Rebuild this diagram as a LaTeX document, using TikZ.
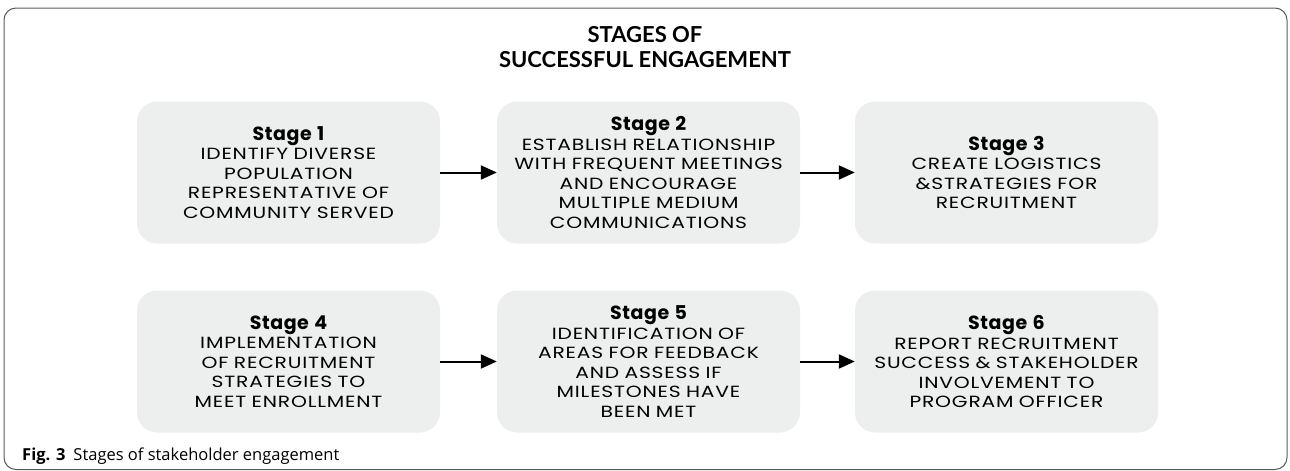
\documentclass[tikz,border=0pt]{standalone}
\usepackage{fontspec}
\setmainfont{Open Sans}
\newfontfamily\titlefont{Lato}
\newfontfamily\boxfont{Poppins}[FakeStretch=1.25, LetterSpace=5]
\newfontfamily\headfont{Poppins}[LetterSpace=3]
\usetikzlibrary{arrows.meta}
\definecolor{boxgray}{HTML}{EDEEEE}
\definecolor{framegray}{HTML}{5A5A5A}
\newcommand{\stagehead}[1]{{\headfont\fontsize{19}{22}\selectfont\bfseries #1}\\}
\begin{document}
\begin{tikzpicture}[x=1pt, y=-1pt,
                    stage/.style={fill=boxgray, rounded corners=20pt, inner sep=0pt,
                                  minimum width=303pt, minimum height=142pt,
                                  text width=300pt, align=center, text=black,
                                  font=\boxfont\fontsize{16.2}{19.5}\selectfont},
                    flow/.style={-{Triangle[length=16pt,width=14pt]}, line width=2pt}]
	\useasboundingbox (0,0) rectangle (1290,471);
	\draw[framegray, line width=1pt, rounded corners=12pt] (4,8) rectangle (1287,469.5);

	\node[font=\titlefont\bfseries\fontsize{22}{25}\selectfont, align=center] (title) at (645,47)
		{STAGES OF\\SUCCESSFUL ENGAGEMENT};

	\node[stage] (s1) at (288.5, 172.5) {\stagehead{Stage 1}IDENTIFY DIVERSE\\POPULATION\\REPRESENTATIVE OF\\COMMUNITY SERVED};
	\node[stage] (s2) at (648.5, 172.5) {\stagehead{Stage 2}ESTABLISH RELATIONSHIP\\WITH FREQUENT MEETINGS\\AND ENCOURAGE\\MULTIPLE MEDIUM\\COMMUNICATIONS};
	\node[stage] (s3) at (1006.5, 172.5) {\stagehead{Stage 3}CREATE LOGISTICS\\\&STRATEGIES FOR\\RECRUITMENT};
	\node[stage] (s4) at (288.5, 361.5) {\stagehead{Stage 4}IMPLEMENTATION\\OF RECRUITMENT\\STRATEGIES TO\\MEET ENROLLMENT};
	\node[stage] (s5) at (648.5, 361.5) {\stagehead{Stage 5}IDENTIFICATION OF\\AREAS FOR FEEDBACK\\AND ASSESS IF\\MILESTONES HAVE\\BEEN MET};
	\node[stage] (s6) at (1006.5, 361.5) {\stagehead{Stage 6}REPORT RECRUITMENT\\SUCCESS \& STAKEHOLDER\\INVOLVEMENT TO\\PROGRAM OFFICER};

	\path[flow] 	(s1)  edge   (s2);
	\path[flow] 	(s2)  edge   (s3);
	\path[flow] 	(s4)  edge   (s5);
	\path[flow] 	(s5)  edge   (s6);

	\node[anchor=base west, inner sep=0pt, font=\fontsize{16.5}{20}\selectfont] (caption) at (22,460)
		{\textbf{Fig. 3}\hspace{8pt}Stages of stakeholder engagement};
\end{tikzpicture}
\end{document}
